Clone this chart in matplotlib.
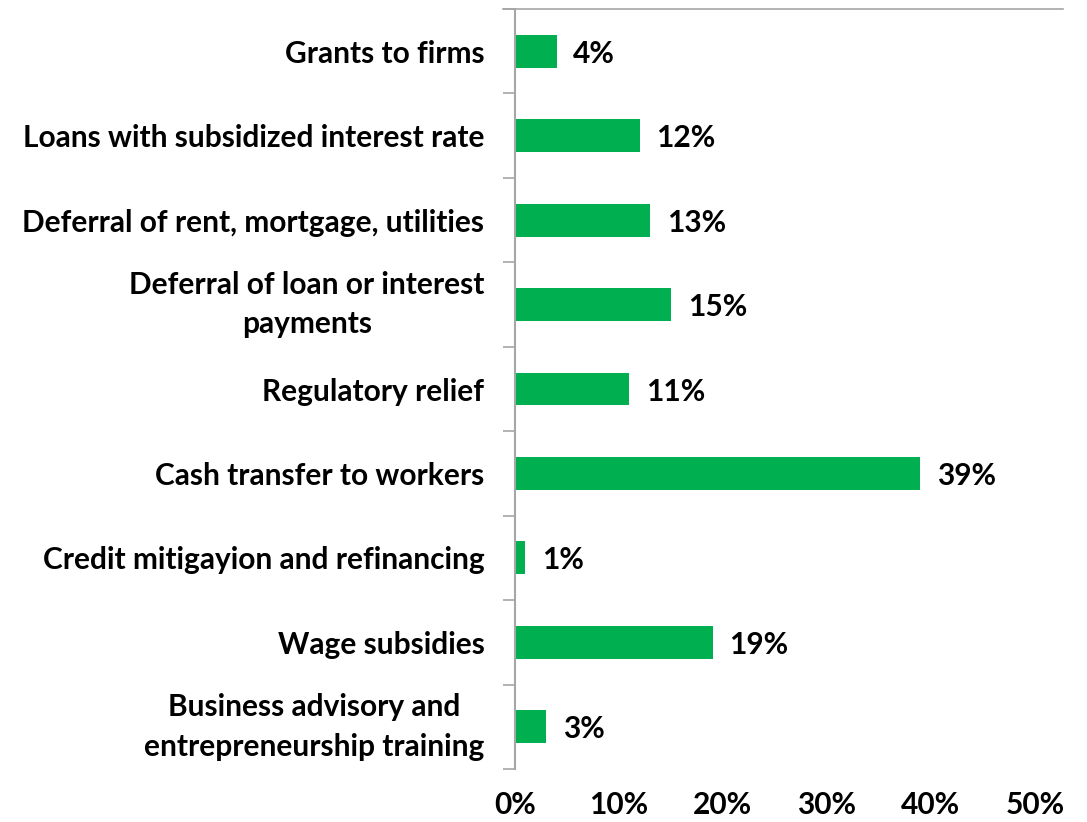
import matplotlib.pyplot as plt
from matplotlib.lines import Line2D
import numpy as np

plt.rcParams['font.family'] = ['Lato', 'DejaVu Sans']
plt.rcParams['font.weight'] = 'bold'

categories = [
    'Grants to firms',
    'Loans with subsidized interest rate',
    'Deferral of rent, mortgage, utilities',
    'Deferral of loan or interest\npayments',
    'Regulatory relief',
    'Cash transfer to workers',
    'Credit mitigayion and refinancing',
    'Wage subsidies',
    'Business advisory and\nentrepreneurship training',
]
shares = [4, 12, 13, 15, 11, 39, 1, 19, 3]
xticks = [0, 10, 20, 30, 40, 50]

fs = 21.5

fig = plt.figure(figsize=(10.87, 8.22), dpi=100)
ax = fig.add_axes([0.4738, 0.0645, 0.504, 0.9245])

y = np.arange(len(categories))
ax.barh(y, shares, height=0.39, color='#00B050')
ax.set_ylim(len(categories) - 0.5, -0.5)
ax.set_xlim(0, 52.7)

for yi, v in zip(y, shares):
    ax.annotate(f'{v}%', (v, yi), xytext=(12, 0), textcoords='offset points',
                va='center_baseline', ha='left', fontsize=fs, fontweight='bold')

# category labels between boundary ticks
ax.set_yticks(y)
ax.set_yticklabels(categories, fontsize=fs, fontweight='bold',
                   multialignment='center', linespacing=1.5)
for lbl in ax.get_yticklabels():
    lbl.set_va('center' if '\n' in lbl.get_text() else 'center_baseline')
ax.tick_params(axis='y', length=0, pad=22)
ax.set_yticks(np.arange(-0.5, len(categories)), minor=True)
ax.tick_params(axis='y', which='minor', length=9, color='#A6A6A6', width=1.2)

ax.set_xticks(xticks)
ax.set_xticklabels([f'{t}%' for t in xticks], fontsize=fs, fontweight='bold')
ax.tick_params(axis='x', length=0, pad=16)

for side in ['right', 'bottom', 'top']:
    ax.spines[side].set_visible(False)
ax.spines['left'].set_color('#A6A6A6')
ax.spines['left'].set_linewidth(1.5)

# thin border along the top of the plot area
ax.add_line(Line2D([-0.022, 1.0], [1.0, 1.0], transform=ax.transAxes,
                   color='#A6A6A6', linewidth=1.2, clip_on=False))

fig.savefig('out.png', dpi=100)
